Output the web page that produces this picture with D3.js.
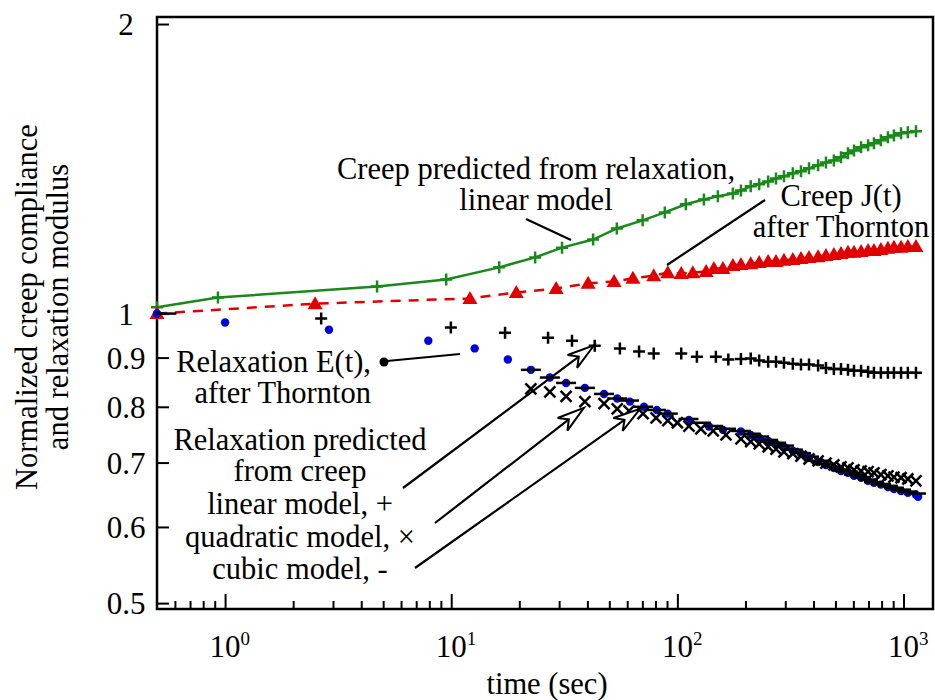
<!DOCTYPE html>
<html><head><meta charset="utf-8">
<script src="https://cdn.jsdelivr.net/npm/d3@7"></script>
<style>
body{margin:0;background:#fff}
svg{display:block}
text{font-family:"Liberation Serif","Times New Roman",serif;fill:#000}
</style>
</head><body>
<svg id="c" width="935" height="700"></svg>
<script>
// ---------- data ----------
const creepPredTime  = [0.5, 0.93, 4.7, 9.5, 16.3, 23.5, 30.9, 42.4, 54, 70.2, 88, 109, 131, 151, 176, 191, 211, 230, 252, 273, 296, 324, 352, 382, 419, 454, 492, 529, 568, 604, 649, 697, 740, 794, 853, 907, 975, 1045, 1135];
const creepPredValue = [1.015, 1.039, 1.067, 1.085, 1.117, 1.144, 1.171, 1.194, 1.226, 1.25, 1.274, 1.299, 1.314, 1.324, 1.333, 1.343, 1.356, 1.363, 1.372, 1.382, 1.389, 1.399, 1.406, 1.416, 1.426, 1.436, 1.443, 1.454, 1.468, 1.478, 1.489, 1.496, 1.503, 1.514, 1.525, 1.532, 1.540, 1.544, 1.547];

const creepTime  = [0.5, 2.5, 12.1, 19.4, 29.1, 40.3, 52.5, 63.6, 78.6, 90.7, 104, 117, 134, 145, 159, 176, 191, 211, 230, 252, 273, 296, 324, 352, 382, 419, 454, 492, 529, 568, 604, 649, 697, 740, 794, 853, 907, 975, 1045, 1135];
const creepValue = [1.0, 1.024, 1.037, 1.052, 1.062, 1.075, 1.080, 1.088, 1.095, 1.103, 1.101, 1.103, 1.106, 1.114, 1.114, 1.122, 1.125, 1.127, 1.130, 1.133, 1.133, 1.136, 1.138, 1.141, 1.144, 1.146, 1.149, 1.152, 1.155, 1.158, 1.158, 1.160, 1.163, 1.163, 1.166, 1.169, 1.172, 1.172, 1.174, 1.174];

const relaxTime  = [0.5, 1.0, 2.88, 7.92, 12.7, 17.8, 22.5, 27.3, 32.2, 39.0, 47.4, 54.2, 61.7, 71.2, 81.1, 90.7, 112.5, 138, 159, 191, 211, 230, 252, 273, 296, 324, 352, 382, 419, 454, 492, 529, 568, 604, 649, 697, 740, 794, 853, 907, 975, 1045, 1135, 1160];
const relaxValue = [1.0, 0.979, 0.962, 0.937, 0.920, 0.896, 0.874, 0.858, 0.847, 0.837, 0.825, 0.816, 0.810, 0.800, 0.794, 0.787, 0.775, 0.763, 0.757, 0.754, 0.748, 0.743, 0.737, 0.732, 0.727, 0.720, 0.715, 0.708, 0.701, 0.696, 0.691, 0.686, 0.683, 0.678, 0.675, 0.670, 0.667, 0.664, 0.660, 0.657, 0.654, 0.651, 0.648, 0.645];

const linearTime  = [2.66, 9.96, 17.3, 26.8, 34.2, 43.1, 55.7, 67.7, 78.6, 104, 122, 148, 168, 191, 211, 230, 252, 273, 296, 324, 352, 382, 419, 454, 492, 529, 568, 604, 649, 697, 740, 794, 853, 907, 975, 1045, 1135];
const linearValue = [0.988, 0.967, 0.955, 0.944, 0.937, 0.926, 0.920, 0.913, 0.909, 0.909, 0.902, 0.902, 0.896, 0.897, 0.898, 0.894, 0.891, 0.891, 0.889, 0.887, 0.885, 0.885, 0.883, 0.878, 0.876, 0.876, 0.874, 0.872, 0.872, 0.870, 0.868, 0.868, 0.868, 0.868, 0.868, 0.868, 0.868];

const quadTime  = [22.5, 27.3, 32.2, 39.0, 47.4, 54.2, 61.1, 70.5, 80.5, 90.7, 100, 112.5, 127, 144, 164, 191, 211, 230, 252, 273, 296, 324, 352, 382, 419, 454, 492, 529, 568, 604, 649, 697, 740, 794, 853, 907, 975, 1045, 1135];
const quadValue = [0.835, 0.829, 0.820, 0.810, 0.806, 0.796, 0.792, 0.787, 0.779, 0.774, 0.770, 0.764, 0.759, 0.755, 0.748, 0.741, 0.736, 0.732, 0.727, 0.723, 0.718, 0.715, 0.711, 0.706, 0.703, 0.699, 0.696, 0.693, 0.691, 0.688, 0.686, 0.685, 0.683, 0.680, 0.678, 0.676, 0.675, 0.673, 0.670];

const cubicTime  = [0.55, 22.5, 27.3, 32.2, 39.0, 47.4, 54.2, 61.1, 70.5, 80.5, 90.7, 112, 127, 144, 164, 191, 211, 230, 252, 273, 296, 324, 352, 382, 419, 454, 492, 529, 568, 604, 649, 697, 740, 794, 853, 907, 975, 1045, 1135];
const cubicValue = [1.0, 0.874, 0.858, 0.847, 0.837, 0.825, 0.816, 0.812, 0.800, 0.794, 0.787, 0.777, 0.770, 0.764, 0.759, 0.755, 0.750, 0.745, 0.739, 0.734, 0.729, 0.722, 0.716, 0.710, 0.703, 0.698, 0.693, 0.688, 0.685, 0.680, 0.676, 0.672, 0.668, 0.665, 0.662, 0.659, 0.656, 0.653, 0.650];

const xMajorTicks = [1, 10, 100, 1000];
const xMajorExp   = ["0", "1", "2", "3"];
const yTicks      = [0.5, 0.6, 0.7, 0.8, 0.9, 1, 2];

// ---------- layout ----------
const svg = d3.select("#c");
const L = 157, R = 933, T = 17, B = 609;
const x = d3.scaleLog().domain([0.5, 1350]).range([L, R]);
const y = d3.scaleLog().domain([0.493, 2.034]).range([B, T]);
const FS = 30.5;

const zip = (a, b) => a.map((t, i) => [t, b[i]]);
const creepPred = zip(creepPredTime, creepPredValue);
const creep = zip(creepTime, creepValue);
const relax = zip(relaxTime, relaxValue);
const linear = zip(linearTime, linearValue);
const quad = zip(quadTime, quadValue);
const cubic = zip(cubicTime, cubicValue);

// ---------- axes ----------
const minorX = x.ticks().filter(v => v > 0.55 && !xMajorTicks.some(m => Math.abs(m - v) < 1e-9));
const gxMaj = svg.append("g").attr("transform", `translate(0,${B})`)
  .call(d3.axisBottom(x).tickValues(xMajorTicks).tickSize(-15).tickFormat(""));
const gxMin = svg.append("g").attr("transform", `translate(0,${B})`)
  .call(d3.axisBottom(x).tickValues(minorX).tickSize(-8).tickFormat(""));
[gxMaj, gxMin].forEach(g => { g.select(".domain").remove(); g.selectAll("line").attr("stroke", "#000").attr("stroke-width", 2); });

xMajorTicks.forEach((v, i) => {
  const t = svg.append("text").attr("x", x(v) - 15.5).attr("y", 657).attr("text-anchor", "start")
    .style("font-size", "31px");
  t.append("tspan").text("10");
  t.append("tspan").attr("dy", -12).style("font-size", "19px").text(xMajorExp[i]);
});

const gy = svg.append("g").attr("transform", `translate(${L},0)`)
  .call(d3.axisLeft(y).tickValues(yTicks).tickSize(-12).tickFormat(d => String(d)));
gy.select(".domain").remove();
gy.selectAll("line").attr("stroke", "#000").attr("stroke-width", 2);
gy.selectAll("text").attr("x", 126 - L).attr("dy", "0.35em").attr("text-anchor", "middle")
  .style("font-size", "31px").style("font-family", "'Liberation Serif', serif").attr("fill", "#000");

svg.append("rect").attr("x", L).attr("y", T).attr("width", R - L).attr("height", B - T)
  .attr("fill", "none").attr("stroke", "#000").attr("stroke-width", 2.5);

// ---------- series ----------
const line = d3.line().x(d => x(d[0])).y(d => y(d[1]));
const GREEN = "#1a881a", RED = "#e00000", BLUE = "#0000e0";

svg.append("path").datum(creep).attr("d", line).attr("fill", "none")
  .attr("stroke", RED).attr("stroke-width", 2.5).attr("stroke-dasharray", "10,8");
svg.append("path").datum(creepPred).attr("d", line).attr("fill", "none")
  .attr("stroke", GREEN).attr("stroke-width", 2.5);

const plusPath = s => `M${-s},0H${s}M0,${-s}V${s}`;
const crossPath = s => `M${-s},${-s}L${s},${s}M${-s},${s}L${s},${-s}`;

svg.append("g").selectAll("path").data(creepPred).join("path")
  .attr("transform", d => `translate(${x(d[0])},${y(d[1])})`)
  .attr("d", plusPath(6)).attr("stroke", GREEN).attr("stroke-width", 2.5).attr("fill", "none");

svg.append("g").selectAll("path").data(creep).join("path")
  .attr("transform", d => `translate(${x(d[0])},${y(d[1])})`)
  .attr("d", "M0,-7.5L7.5,5.5L-7.5,5.5Z").attr("fill", RED);

svg.append("g").selectAll("circle").data(relax).join("circle")
  .attr("cx", d => x(d[0])).attr("cy", d => y(d[1])).attr("r", 4.2).attr("fill", BLUE);

svg.append("g").selectAll("path").data(linear).join("path")
  .attr("transform", d => `translate(${x(d[0])},${y(d[1])})`)
  .attr("d", plusPath(6)).attr("stroke", "#000").attr("stroke-width", 2.5).attr("fill", "none");

svg.append("g").selectAll("path").data(quad).join("path")
  .attr("transform", d => `translate(${x(d[0])},${y(d[1])})`)
  .attr("d", crossPath(5.5)).attr("stroke", "#000").attr("stroke-width", 2.5).attr("fill", "none");

svg.append("g").selectAll("path").data(cubic).join("path")
  .attr("transform", d => `translate(${x(d[0])},${y(d[1])})`)
  .attr("d", "M-10,0H10").attr("stroke", "#000").attr("stroke-width", 2.5).attr("fill", "none");

// ---------- annotations (multi-line labels as one text with tspans) ----------
function block(arr, xx, y0, dys, anchor) {
  const t = svg.append("text").attr("x", xx).attr("y", y0)
    .attr("text-anchor", anchor).style("font-size", FS + "px");
  arr.forEach((s, i) => t.append("tspan").attr("x", xx).attr("dy", i === 0 ? 0 : dys[i - 1]).text(s));
}
block(["Creep predicted from relaxation,", "linear model"], 536, 179, [31], "middle");
block(["Creep J(t)", "after Thornton"], 841, 206, [31], "middle");
block(["Relaxation E(t),", "after Thornton"], 371, 372, [31], "end");
block(["Relaxation predicted", "from creep", "linear model, +", "quadratic model, \u00d7", "cubic model, -"],
      300, 450, [31, 33, 33, 32], "middle");

const seg = (x1, y1, x2, y2) => svg.append("line").attr("x1", x1).attr("y1", y1).attr("x2", x2).attr("y2", y2)
  .attr("stroke", "#000").attr("stroke-width", 2.2);
seg(526, 219, 571, 240);
seg(765, 200, 667, 265);
seg(387, 361, 460, 354);
svg.append("circle").attr("cx", 384).attr("cy", 362).attr("r", 4.5).attr("fill", "#000");

function arrow(sx, sy, t, v) {
  const tx = x(t), ty = y(v);
  const dx = tx - sx, dy = ty - sy, len = Math.hypot(dx, dy);
  const ux = dx / len, uy = dy / len, nx = -uy, ny = ux;
  const hl = 27, hw = 8, notch = 19;
  seg(sx, sy, tx - notch * ux, ty - notch * uy);
  const p = [[tx, ty], [tx - hl * ux + hw * nx, ty - hl * uy + hw * ny], [tx - notch * ux, ty - notch * uy], [tx - hl * ux - hw * nx, ty - hl * uy - hw * ny]];
  svg.append("path").attr("d", "M" + p.map(q => q.join(",")).join("L") + "Z")
    .attr("fill", "#fff").attr("stroke", "#000").attr("stroke-width", 2).attr("stroke-linejoin", "miter");
}
arrow(403, 488, 42.8, 0.927);
arrow(435, 523, 38.6, 0.798);
arrow(415, 568, 68.4, 0.796);

// axis titles
svg.append("text").attr("x", 547).attr("y", 694).attr("text-anchor", "middle").style("font-size", FS + "px").text("time (sec)");
const yt = svg.append("text").attr("transform", "translate(37,307) rotate(-90)").attr("text-anchor", "middle").style("font-size", FS + "px");
yt.append("tspan").attr("x", 0).attr("y", 0).text("Normalized creep compliance");
yt.append("tspan").attr("x", 0).attr("dy", 31).text("and relaxation modulus");
</script>
</body></html>
